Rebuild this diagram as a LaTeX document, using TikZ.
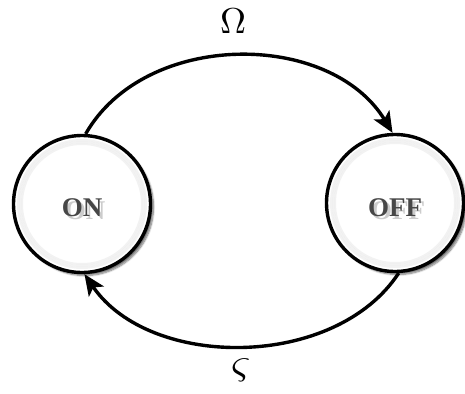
\documentclass[tikz,border=0pt]{standalone}
\usepackage{fontspec}
\newfontfamily\statefont{Liberation Serif}
\usetikzlibrary{shadows.blur,arrows.meta}
\tikzset{
  state/.style={circle, draw=black, line width=3.4pt, minimum size=137pt, inner sep=0pt,
    fill=white,
    blur shadow={shadow xshift=3pt, shadow yshift=-3pt, shadow blur steps=8, shadow opacity=55}},
  innerrim/.style={draw=black, opacity=0.05, line width=2pt},
  statetext/.style={font=\statefont\bfseries\fontsize{27}{30}\selectfont, text=black!72},
  stateshadow/.style={font=\statefont\bfseries\fontsize{27}{30}\selectfont, text=black!20},
  trans/.style={line width=3.4pt, -{Stealth[length=21pt,width=18pt,inset=5pt]}},
  omegalbl/.style={scale=3.6},
  sigmalbl/.style={scale=4.3}
}
\begin{document}
\begin{tikzpicture}[x=1pt,y=-1pt]
\useasboundingbox (0,0) rectangle (465,393);
\node[state] (on) at (82,204) {};
\node[state] (off) at (395,203) {};
\foreach \r in {64,62,60}{
  \draw[innerrim] (on) circle[radius=\r];
  \draw[innerrim] (off) circle[radius=\r];
}
\node[stateshadow] (onsh) at (85,211) {ON};
\node[stateshadow] (offsh) at (398,211) {OFF};
\node[statetext] (ontext) at (82,208) {ON};
\node[statetext] (offtext) at (395,208) {OFF};
\draw[trans] (on.87) .. controls (145,30) and (330,30) .. (off.92);
\draw[trans] (off.-87) .. controls (335,370) and (150,370) .. (on.-88);
\node[omegalbl] (omega) at (233,21) {$\Omega$};
\node[sigmalbl] (sigma) at (241,370) {$\varsigma$};
\end{tikzpicture}
\end{document}
